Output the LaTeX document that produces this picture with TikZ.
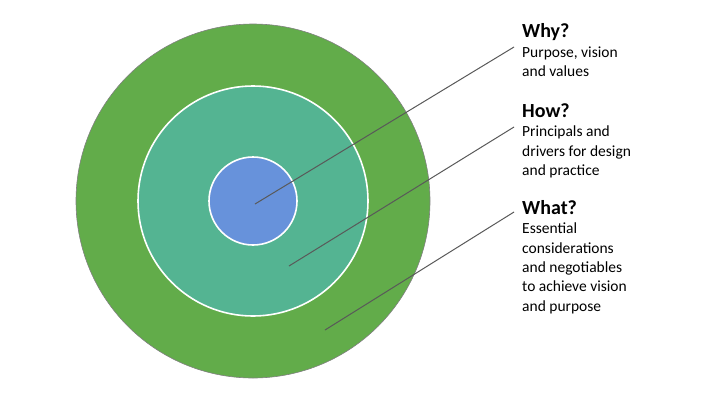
\documentclass[tikz,border=0pt]{standalone}
\usepackage{fontspec}
\setmainfont{Carlito}
\usepackage{tikz}
\usetikzlibrary{arrows.meta,calc}
\definecolor{ringout}{HTML}{62AC4A}
\definecolor{ringmid}{HTML}{54B492}
\definecolor{ringin}{HTML}{6792DB}
\definecolor{pointergray}{HTML}{595959}
\begin{document}
\begin{tikzpicture}[x=1pt, y=-1pt,
	ring/.style={circle, inner sep=0pt},
	pointer/.style={pointergray, line width=1pt},
	blurb/.style={anchor=base west, align=left, inner sep=0pt, font=\fontsize{15.5}{19.3}\selectfont}]
	\useasboundingbox (0,0) rectangle (720,405);
	\node[ring, fill=ringout, draw=gray, line width=0.6pt, minimum size=354pt] (outer) at (253,201) {};
	\node[ring, fill=ringmid, draw=white, line width=1.6pt, minimum size=230pt] (middle) at (253,201) {};
	\node[ring, fill=ringin, draw=white, line width=1.6pt, minimum size=88pt] (inner) at (253,201) {};
	\node[blurb] (why) at (522,76.5) {{\fontsize{20}{19}\selectfont\bfseries Why?}\\Purpose, vision\\and values};
	\node[blurb] (how) at (522,175.5) {{\fontsize{20}{19}\selectfont\bfseries How?}\\Principals and\\drivers for design\\and practice};
	\node[blurb] (what) at (522,311) {{\fontsize{20}{19}\selectfont\bfseries What?}\\Essential\\considerations\\and negotiables\\to achieve vision\\and purpose};
	\coordinate (whyin) at (255,204);
	\coordinate (howin) at (289,266);
	\coordinate (whatin) at (325,330);
	\coordinate (whyout) at (514,47);
	\coordinate (howout) at (514,127);
	\coordinate (whatout) at (514,212);
	\draw[pointer] (whyin) -- (whyout);
	\draw[pointer] (howin) -- (howout);
	\draw[pointer] (whatin) -- (whatout);
\end{tikzpicture}
\end{document}
